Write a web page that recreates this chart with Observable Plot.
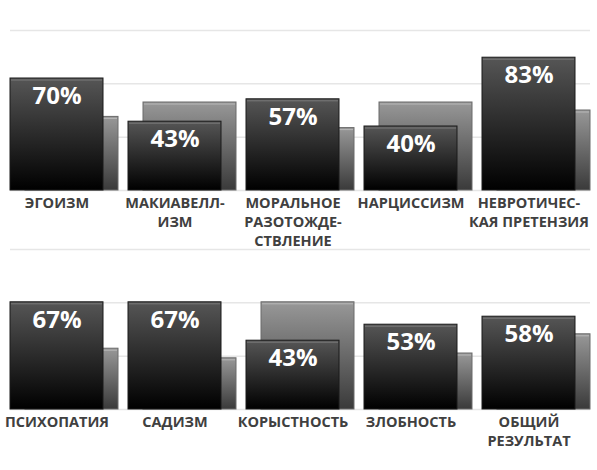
<!DOCTYPE html>
<html>
<head>
<meta charset="utf-8">
<script src="https://cdn.jsdelivr.net/npm/d3@7"></script>
<script src="https://cdn.jsdelivr.net/npm/@observablehq/plot@0.6"></script>
<style>
  body { margin: 0; background: #fff; }
  #chart svg { display: block; }
</style>
</head>
<body>
<div id="chart"></div>
<script>
// fila de arriba
const categorias1 = ["ЭГОИЗМ", "МАКИАВЕЛЛ-\nИЗМ", "МОРАЛЬНОЕ\nРАЗОТОЖДЕ-\nСТВЛЕНИЕ", "НАРЦИССИЗМ", "НЕВРОТИЧЕС-\nКАЯ ПРЕТЕНЗИЯ"]
const valores1 = [70, 43, 57, 40, 83]
const fondo1 = [46, 55, 39, 55, 50]

// fila de abajo
const categorias2 = ["ПСИХОПАТИЯ", "САДИЗМ", "КОРЫСТНОСТЬ", "ЗЛОБНОСТЬ", "ОБЩИЙ\nРЕЗУЛЬТАТ"]
const valores2 = [67, 67, 43, 53, 58]
const fondo2 = [38, 32, 67, 35, 47]

const grilla = [0, 100 / 3, 200 / 3, 100]

function fila(cats, vals, back, id, height, top, bottom) {
  const data = cats.map((c, i) => ({cat: c, val: vals[i], back: back[i]}))

  const chart = Plot.plot({
    width: 597,
    height: height,
    marginTop: top,
    marginBottom: bottom,
    marginLeft: 10,
    marginRight: 7,
    x: {domain: cats, paddingInner: 0.085, paddingOuter: 0, axis: null},
    y: {domain: [0, 100], axis: null},
    style: {fontFamily: "'Open Sans', sans-serif", overflow: "visible"},
    marks: [
      Plot.ruleY(grilla, {stroke: "#e6e6e6", strokeWidth: 1.5}),
      // barra gris de atras
      Plot.barY(data, {x: "cat", y: "back", insetLeft: 15, fill: `url(#claro${id})`, stroke: "#6a6a6a", strokeWidth: 1}),
      Plot.tickY(data, {x: "cat", y: "back", dy: 1.5, insetLeft: 16, insetRight: 1, stroke: "#b8b8b8", strokeWidth: 1}),
      // barra oscura de adelante
      Plot.barY(data, {x: "cat", y: "val", insetRight: 15, fill: `url(#oscuro${id})`, stroke: "#1a1a1a", strokeWidth: 1}),
      Plot.tickY(data, {x: "cat", y: "val", dy: 1.5, insetLeft: 1, insetRight: 16, stroke: "#7a7a7a", strokeWidth: 1}),
      Plot.text(data, {x: "cat", y: "val", text: d => d.val + "%", dx: -7.5, dy: 18, fill: "white", fontSize: 24, fontWeight: "bold"}),
      Plot.text(data, {x: "cat", y: 0, text: "cat", dx: -7.5, dy: 4, lineAnchor: "top", fill: "#404040", fontSize: 14.5, fontWeight: "bold", lineHeight: 1.3})
    ]
  })

  const defs = d3.select(chart).insert("defs", ":first-child")
  const g1 = defs.append("linearGradient").attr("id", "oscuro" + id).attr("x1", 0).attr("y1", 0).attr("x2", 0).attr("y2", 1)
  g1.append("stop").attr("offset", 0).attr("stop-color", "#565656")
  g1.append("stop").attr("offset", 1).attr("stop-color", "#000")
  const g2 = defs.append("linearGradient").attr("id", "claro" + id).attr("x1", 0).attr("y1", 0).attr("x2", 0).attr("y2", 1)
  g2.append("stop").attr("offset", 0).attr("stop-color", "#989898")
  g2.append("stop").attr("offset", 1).attr("stop-color", "#3a3a3a")

  d3.select('#chart').append(() => chart)
}

fila(categorias1, valores1, fondo1, "A", 248, 30, 58)
fila(categorias2, valores2, fondo2, "B", 222, 1, 61)
</script>
</body>
</html>
